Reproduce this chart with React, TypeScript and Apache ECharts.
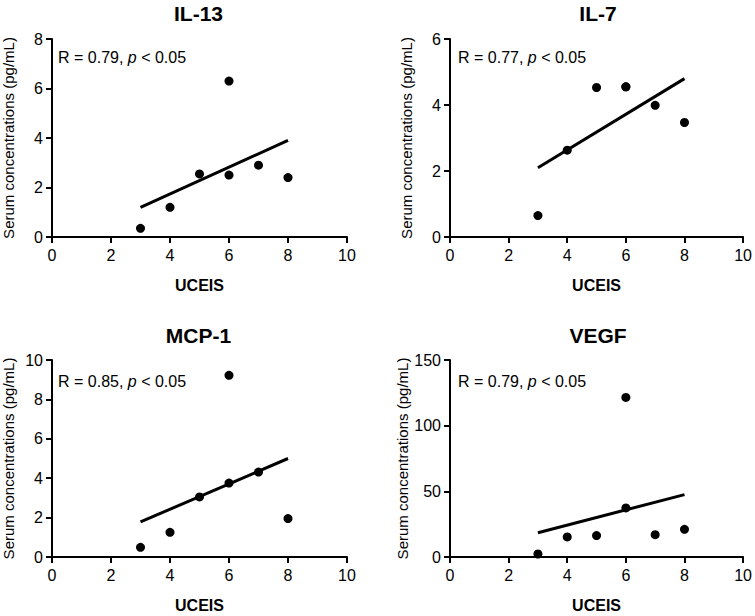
import React, { useEffect, useRef } from "react";
import * as echarts from "echarts";

const panelTitles = ["IL-13", "IL-7", "MCP-1", "VEGF"];
const rValues = ["0.79", "0.77", "0.85", "0.79"];
const yMax = [8, 6, 10, 150];
const yInterval = [2, 2, 2, 50];

const ucies = [3, 4, 5, 6, 6, 7, 8];
const il13 = [0.35, 1.2, 2.55, 6.3, 2.5, 2.9, 2.4];
const il7 = [0.65, 2.63, 4.53, 4.55, 4.55, 3.99, 3.47];
const mcp1 = [0.49, 1.25, 3.05, 9.22, 3.75, 4.31, 1.95];
const vegf = [2.3, 15.3, 16.3, 121.5, 37.4, 17.0, 21.1];

const fitX = [3, 8];
const fitIL13 = [1.2, 3.9];
const fitIL7 = [2.1, 4.8];
const fitMCP1 = [1.78, 5.0];
const fitVEGF = [18.5, 47.5];

const seriesValues = [il13, il7, mcp1, vegf];
const fitValues = [fitIL13, fitIL7, fitMCP1, fitVEGF];

const FONT = "'Liberation Sans', Arial, sans-serif";

const gridPos = [
  { left: 50, top: 39, width: 297, height: 198 },
  { left: 450, top: 39, width: 296, height: 198 },
  { left: 50, top: 360, width: 297, height: 197 },
  { left: 450, top: 360, width: 296, height: 197 },
];

export default function App() {
  const ref = useRef<HTMLDivElement>(null);
  useEffect(() => {
    document.body.style.margin = "0";
    if (!ref.current) return;
    const chart = echarts.init(ref.current, null, { renderer: "svg" });
    const axisLine = { show: true, lineStyle: { color: "#000", width: 2 } };
    const axisTick = { show: true, inside: false, length: 6, lineStyle: { color: "#000", width: 2 } };
    const axisLabel = { color: "#000", fontSize: 16, fontFamily: FONT };

    const grids = gridPos.map((g) => ({ ...g, containLabel: false }));
    const xAxes = gridPos.map((_, i) => ({
      type: "value",
      gridIndex: i,
      min: 0,
      max: 10,
      interval: 2,
      axisLine,
      axisTick,
      axisLabel: { ...axisLabel, margin: 10 },
      splitLine: { show: false },
      name: "UCEIS",
      nameLocation: "middle",
      nameGap: 40,
      nameTextStyle: { color: "#000", fontSize: 16, fontWeight: "bold", fontFamily: FONT },
    }));
    const yAxes = gridPos.map((_, i) => ({
      type: "value",
      gridIndex: i,
      min: 0,
      max: yMax[i],
      interval: yInterval[i],
      axisLine,
      axisTick,
      axisLabel: { ...axisLabel, margin: 9 },
      splitLine: { show: false },
      name: "Serum concentrations (pg/mL)",
      nameLocation: "middle",
      nameGap: 36,
      nameTextStyle: { color: "#000", fontSize: 15, fontFamily: FONT },
    }));
    const series: any[] = [];
    seriesValues.forEach((vals, i) => {
      series.push({
        type: "scatter",
        xAxisIndex: i,
        yAxisIndex: i,
        symbol: "circle",
        symbolSize: 9,
        itemStyle: { color: "#000", opacity: 1 },
        data: vals.map((v, k) => [ucies[k], v]),
        z: 3,
      });
      series.push({
        type: "line",
        xAxisIndex: i,
        yAxisIndex: i,
        symbol: "none",
        lineStyle: { color: "#000", width: 3 },
        data: fitX.map((x, k) => [x, fitValues[i][k]]),
        z: 2,
      });
    });
    const titles = gridPos.map((g, i) => ({
      type: "text",
      x: g.left + g.width / 2,
      y: i < 2 ? 13 : 335,
      style: {
        text: panelTitles[i],
        fill: "#000",
        font: `bold 21px ${FONT}`,
        align: "center",
        verticalAlign: "middle",
      },
    }));
    const notes = gridPos.map((g, i) => ({
      type: "text",
      x: g.left + 8,
      y: i < 2 ? 57 : 381,
      style: {
        text: `{a|R = ${rValues[i]}, }{b|p}{a| < 0.05}`,
        verticalAlign: "middle",
        align: "left",
        rich: {
          a: { fill: "#000", fontSize: 16, fontFamily: FONT },
          b: { fill: "#000", fontSize: 16, fontFamily: FONT, fontStyle: "italic" },
        },
      },
    }));
    chart.setOption({
      animation: false,
      backgroundColor: "#fff",
      grid: grids,
      xAxis: xAxes,
      yAxis: yAxes,
      series,
      graphic: [...titles, ...notes],
    });
    return () => chart.dispose();
  }, []);
  return <div ref={ref} style={{ width: 755, height: 616 }} />;
}
